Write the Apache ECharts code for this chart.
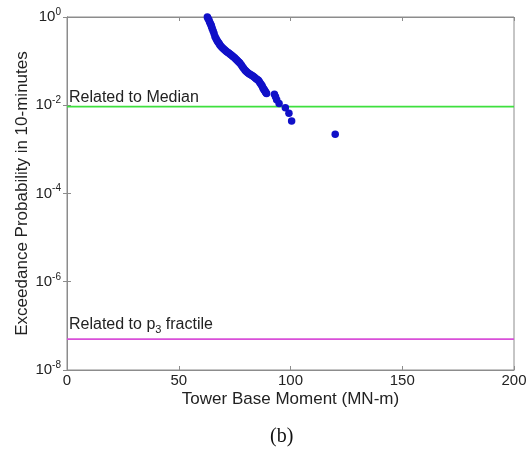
<!DOCTYPE html>
<html><head><meta charset="utf-8">
<script src="https://cdn.jsdelivr.net/npm/echarts@6/dist/echarts.min.js"></script>
<style>html,body{margin:0;padding:0;background:#fff}#c{width:531px;height:449px}</style>
</head><body><div id="c"></div>
<script>
// Tower base moment (MN-m) of each sample
const momentX = [62.8,63.1,63.5,63.8,64.2,64.5,64.7,65.0,65.4,65.8,66.2,66.6,67.0,67.4,67.8,68.2,68.5,69.0,69.5,70.0,70.5,71.0,71.5,72.0,72.5,73.0,73.5,74.0,74.4,75.0,75.5,76.0,76.5,77.0,77.4,78.0,78.5,79.0,79.6,80.0,80.5,81.0,81.5,82.0,82.6,83.1,83.6,84.1,84.6,85.1,85.6,86.0,86.4,86.8,87.2,87.5,87.8,88.1,88.3,88.6,88.8,89.1,89.3,92.8,93.3,93.8,94.9,97.7,99.3,100.5,120.0];
// Exceedance probability in 10 minutes
const exceedP = [1.0,0.92,0.85,0.77,0.7,0.65,0.6,0.54,0.48,0.42,0.36,0.33,0.3,0.28,0.26,0.245,0.23,0.215,0.2,0.19,0.18,0.172,0.164,0.157,0.15,0.143,0.137,0.131,0.126,0.119,0.112,0.106,0.1,0.094,0.089,0.082,0.075,0.069,0.063,0.06,0.057,0.054,0.052,0.05,0.048,0.046,0.044,0.042,0.04,0.0385,0.037,0.0345,0.032,0.03,0.028,0.026,0.024,0.023,0.022,0.021,0.02,0.019,0.0185,0.0177,0.0155,0.0133,0.011,0.0088,0.0066,0.0044,0.0022];
const medianLevel = 0.0093;
const p3Level = 5e-8;
const xRange = [0,200];
const yRange = [1e-8,1];

const chart = echarts.init(document.getElementById('c'), null, {renderer:'canvas'});
const FONT = 'Liberation Sans';
const gray = '#8c8c8c';
const supFmt = v => { const e = Math.round(Math.log10(v)); return '{b|10}{s|' + e + '}'; };

function levelSeries(level, color, labelText, rich, dy){
  return {
    type:'line', xAxisIndex:0, yAxisIndex:0,
    data:[{value:[xRange[0],level],
           label:{show:true,position:'top',align:'left',offset:[2,dy],formatter:labelText,rich:rich,
                  fontFamily:FONT,fontSize:16,color:'#222'}},
          [xRange[1],level]],
    symbol:'circle',symbolSize:0.01,showSymbol:true,
    lineStyle:{color:color,width:1.8},itemStyle:{color:color},
    z:2, silent:true
  };
}

chart.setOption({
  animation:false,
  backgroundColor:'#fff',
  grid:{left:67,right:17,top:17,bottom:79,show:true,borderColor:gray,borderWidth:1},
  xAxis:[{
    type:'value',min:xRange[0],max:xRange[1],interval:50,
    name:'Tower Base Moment (MN-m)',nameLocation:'middle',nameGap:21,nameMoveOverlap:false,
    nameTextStyle:{fontFamily:FONT,fontSize:17,color:'#222'},
    axisLine:{show:true,lineStyle:{color:gray}},
    axisTick:{show:true,inside:true,length:4,lineStyle:{color:gray}},
    axisLabel:{fontFamily:FONT,fontSize:15,color:'#222',margin:3},
    splitLine:{show:false}
  },{
    type:'value',position:'top',min:xRange[0],max:xRange[1],interval:50,
    axisLine:{show:true,lineStyle:{color:gray}},
    axisTick:{show:true,inside:true,length:4,lineStyle:{color:gray}},
    axisLabel:{show:false},splitLine:{show:false}
  }],
  yAxis:[{
    type:'log',logBase:100,min:yRange[0],max:yRange[1],
    name:'Exceedance Probability in 10-minutes',nameLocation:'middle',nameGap:36,nameMoveOverlap:false,
    nameTextStyle:{fontFamily:FONT,fontSize:17,color:'#222'},
    axisLine:{show:true,lineStyle:{color:gray}},
    axisTick:{show:true,inside:true,length:4,lineStyle:{color:gray}},
    axisLabel:{formatter:supFmt,margin:6,
      rich:{b:{fontFamily:FONT,fontSize:15,color:'#222'},
            s:{fontFamily:FONT,fontSize:10,color:'#222',verticalAlign:'top',padding:[0,0,10,0]}}},
    splitLine:{show:false},minorTick:{show:false}
  },{
    type:'log',logBase:100,min:yRange[0],max:yRange[1],position:'right',
    axisLine:{show:true,lineStyle:{color:gray}},
    axisTick:{show:true,inside:true,length:4,lineStyle:{color:gray}},
    axisLabel:{show:false},splitLine:{show:false}
  }],
  graphic:[{type:'text',left:270,top:427,
    style:{text:'(b)',font:'20px "Liberation Serif"',fill:'#111'}}],
  series:[
    levelSeries(medianLevel,'#3ee03e','Related to Median',null,4),
    levelSeries(p3Level,'#d94fd9','{a|Related to p}{c|3}{a| fractile}',
      {a:{fontFamily:FONT,fontSize:16,color:'#222'},c:{fontFamily:FONT,fontSize:11,color:'#222',padding:[10,0,0,0]}},1),
    {
      type:'scatter',
      data:momentX.map((x,i)=>[x,exceedP[i]]),
      symbolSize:7.5,
      itemStyle:{color:'#1010c8',opacity:1},
      z:3
    }
  ]
});
</script></body></html>
